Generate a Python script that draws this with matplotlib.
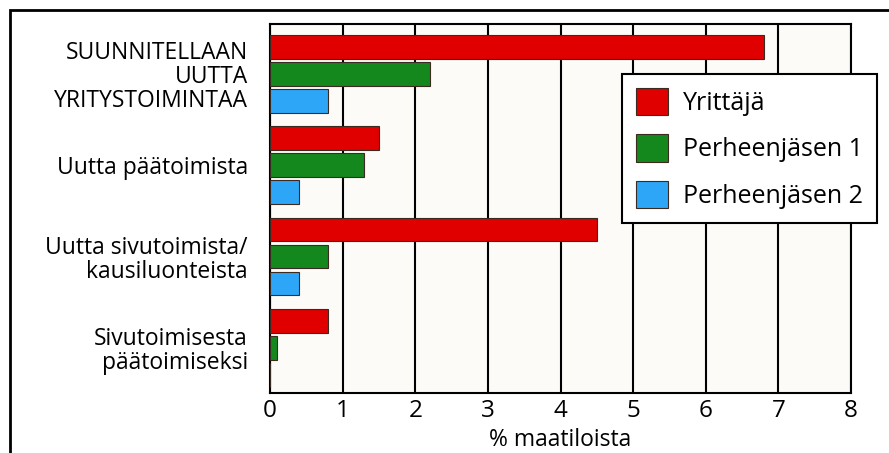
import numpy as np
import matplotlib
matplotlib.use("Agg")
import matplotlib.pyplot as plt
from matplotlib.patches import Rectangle

plt.rcParams['font.family'] = ['Open Sans', 'DejaVu Sans']

categories = ["SUUNNITELLAAN\nUUTTA\nYRITYSTOIMINTAA",
              "Uutta päätoimista",
              "Uutta sivutoimista/\nkausiluonteista",
              "Sivutoimisesta\npäätoimiseksi"]
series = ["Yrittäjä", "Perheenjäsen 1", "Perheenjäsen 2"]
yrittaja = [6.8, 1.5, 4.5, 0.8]
perhe1 = [2.2, 1.3, 0.8, 0.1]
perhe2 = [0.8, 0.4, 0.4, 0.0]
colors = ['#e00000', '#14871d', '#2ea6f7']

values = [yrittaja, perhe1, perhe2]
group_pitch = 3.38

fig = plt.figure(figsize=(8.89, 4.53), dpi=100)
ax = fig.add_axes([270/889, 1 - 393/453, 581/889, 369/453])
ax.set_facecolor('#fcfbf7')

groups = np.arange(len(categories)) * group_pitch
for s in range(3):
    ax.barh(groups + s, values[s], height=0.88, color=colors[s],
            edgecolor='#3a2a20', linewidth=0.8, label=series[s], zorder=3)

ax.set_xlim(0, 8)
ax.set_ylim(groups[-1] + 1 + 1.67, -0.85)
ax.set_xticks(range(9))
ax.xaxis.grid(True, color='black', linewidth=1.5, zorder=1)
ax.tick_params(axis='x', length=0, labelsize=17.5, pad=4)
ax.tick_params(axis='y', length=0, pad=16)
ax.set_yticks(groups + 1)
ax.set_yticklabels(categories, fontsize=16.5, multialignment='right',
                   linespacing=1.0)
for sp in ax.spines.values():
    sp.set_linewidth(1.5)
ax.set_xlabel("% maatiloista", fontsize=16.5, labelpad=4)

leg = ax.legend(loc='upper left', bbox_to_anchor=(0.606, 0.8645),
                fontsize=18, frameon=True, fancybox=False, framealpha=1,
                edgecolor='black', handlelength=1.3, handleheight=1.3,
                labelspacing=0.75, handletextpad=0.6, borderpad=0.55,
                borderaxespad=0)
leg.get_frame().set_linewidth(1.5)
leg.set_zorder(5)

# outer frame around the figure
fig.patches.append(Rectangle((10/889, -0.2), 1.5, 1.2 - 10/453,
                             transform=fig.transFigure, fill=False,
                             edgecolor='black', linewidth=2))

fig.savefig("out.png", dpi=100)
